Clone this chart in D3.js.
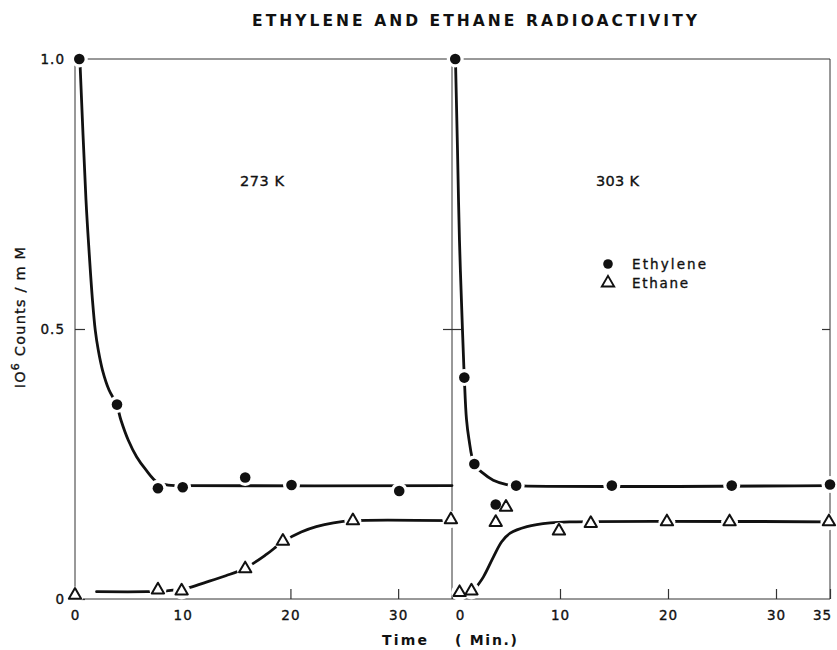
<!DOCTYPE html>
<html><head><meta charset="utf-8">
<script src="https://cdn.jsdelivr.net/npm/d3@7"></script>
<style>
body{margin:0;background:#fff}
svg{display:block}
text{font-family:"DejaVu Sans",sans-serif;fill:#111}
</style></head>
<body><svg id="c" width="837" height="650"></svg>
<script>
// ---------- data ----------
const title = "ETHYLENE AND ETHANE RADIOACTIVITY";
const panelLabels = ["273 K", "303 K"];
const xTicksLeft = [0, 10, 20, 30];
const xTicksRight = [0, 10, 20, 30, 35];
const yTicks = [0, 0.5, 1.0];
const yTickLabels = ["0", "0.5", "1.0"];

// 273 K panel – measured points
const leftEthyleneT = [0.4, 3.9, 7.7, 10.0, 15.8, 20.1, 30.1];
const leftEthyleneV = [1.0, 0.36, 0.205, 0.207, 0.225, 0.211, 0.200];
const leftEthaneT = [0.0, 7.7, 9.9, 15.8, 19.3, 25.8, 34.9];
const leftEthaneV = [0.007, 0.017, 0.015, 0.056, 0.107, 0.145, 0.147];
// 273 K panel – drawn curves
const leftEthyleneCurveT = [0.45, 1.02, 1.30, 1.62, 1.88, 2.16, 2.55, 3.16, 3.85, 4.27, 4.95, 5.73, 6.59, 7.59, 8.64, 9.75, 35];
const leftEthyleneCurveV = [1.0, 0.739, 0.646, 0.554, 0.498, 0.461, 0.424, 0.387, 0.361, 0.331, 0.294, 0.263, 0.239, 0.217, 0.211, 0.210, 0.210];
const leftEthaneCurveT = [2.0, 6.65, 8.5, 10.4, 12.0, 14.0, 15.8, 17.8, 19.3, 21.0, 22.4, 24.0, 25.8, 35];
const leftEthaneCurveV = [0.0135, 0.0135, 0.015, 0.02, 0.03, 0.043, 0.057, 0.083, 0.106, 0.124, 0.134, 0.141, 0.145, 0.145];

// 303 K panel – measured points
const rightEthyleneT = [0.3, 1.14, 2.07, 4.05, 5.94, 14.8, 25.9, 35.0];
const rightEthyleneV = [1.0, 0.41, 0.25, 0.175, 0.21, 0.21, 0.21, 0.212];
const rightEthaneT = [0.7, 1.8, 4.05, 5.0, 9.9, 12.85, 19.9, 25.7, 34.9];
const rightEthaneV = [0.012, 0.015, 0.142, 0.17, 0.126, 0.14, 0.143, 0.143, 0.143];
// 303 K panel – drawn curves
const rightEthyleneCurveT = [0.32, 0.51, 0.69, 0.97, 1.14, 1.34, 1.57, 2.06, 2.87, 3.82, 5.06, 5.93, 35];
const rightEthyleneCurveV = [1.0, 0.831, 0.665, 0.498, 0.41, 0.333, 0.296, 0.25, 0.233, 0.22, 0.212, 0.21, 0.21];
const rightEthaneCurveT = [2.1, 2.91, 3.84, 4.6, 5.39, 6.94, 9.1, 11, 35];
const rightEthaneCurveV = [0.018, 0.041, 0.078, 0.106, 0.122, 0.134, 0.141, 0.143, 0.143];

const legendItems = ["Ethylene", "Ethane"];

// ---------- drawing ----------
const svg = d3.select("#c");
const xL = d3.scaleLinear().domain([0, 35]).range([75, 452]);
const xR = d3.scaleLinear().domain([0, 35]).range([452, 830]);
const y = d3.scaleLinear().domain([0, 1]).range([599, 59]);

const zip = (a, b) => a.map((t, i) => [t, b[i]]);
const ink = "#111";

// frame
const frame = svg.append("g").attr("stroke", "#333").attr("stroke-width", 1).attr("fill", "none");
frame.append("line").attr("x1", xL(0)).attr("x2", xL(0)).attr("y1", y(1)).attr("y2", y(0));
frame.append("line").attr("x1", xL(35)).attr("x2", xL(35)).attr("y1", y(1)).attr("y2", y(0));
frame.append("line").attr("x1", xR(35)).attr("x2", xR(35)).attr("y1", y(1)).attr("y2", y(0));
frame.append("line").attr("x1", xL(0)).attr("x2", xR(35)).attr("y1", y(1)).attr("y2", y(1));
frame.append("line").attr("x1", xL(0)).attr("x2", xR(35)).attr("y1", y(0)).attr("y2", y(0));

function styleAxis(g) {
  g.select(".domain").remove();
  g.selectAll(".tick line").attr("stroke", "#333").attr("stroke-width", 1.2);
  g.selectAll(".tick text").attr("font-family", "DejaVu Sans").attr("font-size", 13.5)
    .attr("letter-spacing", 1).attr("fill", ink).attr("stroke", ink).attr("stroke-width", 0.35);
}

// x axes
svg.append("g").attr("transform", `translate(0,${y(0)})`)
  .call(d3.axisBottom(xL).tickValues(xTicksLeft).tickSize(-10).tickPadding(11).tickFormat(d3.format("d")))
  .call(styleAxis);
const gxR = svg.append("g").attr("transform", `translate(0,${y(0)})`)
  .call(d3.axisBottom(xR).tickValues(xTicksRight).tickSize(-10).tickPadding(11).tickFormat(d3.format("d")))
  .call(styleAxis);
gxR.selectAll(".tick text").attr("dx", d => d === 0 ? 8 : d === 35 ? -8 : 0);

// y axis (left)
svg.append("g").attr("transform", `translate(${xL(0)},0)`)
  .call(d3.axisLeft(y).tickValues(yTicks).tickSize(-10).tickPadding(10).tickFormat((d, i) => yTickLabels[i]))
  .call(styleAxis);
// divider ticks and right edge tick
svg.append("g").attr("transform", `translate(${xL(35)},0)`)
  .call(d3.axisLeft(y).tickValues([0.5]).tickSize(9).tickFormat("")).call(styleAxis);
svg.append("g").attr("transform", `translate(${xL(35)},0)`)
  .call(d3.axisRight(y).tickValues([0.5]).tickSize(9).tickFormat("")).call(styleAxis);
svg.append("g").attr("transform", `translate(${xR(35)},0)`)
  .call(d3.axisLeft(y).tickValues([0.5]).tickSize(8).tickFormat("")).call(styleAxis);

// curves
function curve(xs, T, V) {
  const line = d3.line().x(d => xs(d[0])).y(d => y(d[1])).curve(d3.curveCatmullRom.alpha(0.5));
  svg.append("path").attr("d", line(zip(T, V))).attr("fill", "none")
    .attr("stroke", ink).attr("stroke-width", 2.8).attr("stroke-linecap", "round");
}
curve(xL, leftEthyleneCurveT, leftEthyleneCurveV);
curve(xL, leftEthaneCurveT, leftEthaneCurveV);
curve(xR, rightEthyleneCurveT, rightEthyleneCurveV);
curve(xR, rightEthaneCurveT, rightEthaneCurveV);

// marker halos (the breaks in the drawn lines around each point)
function halos(xs, T, V, r) {
  svg.append("g").selectAll("circle").data(zip(T, V)).join("circle")
    .attr("cx", d => xs(d[0])).attr("cy", d => y(d[1])).attr("r", r).attr("fill", "#fff");
}
halos(xL, leftEthyleneT, leftEthyleneV, 8.5);
halos(xR, rightEthyleneT, rightEthyleneV, 8.5);
halos(xL, leftEthaneT, leftEthaneV, 8.5);
halos(xR, rightEthaneT, rightEthaneV, 8.5);

const tri = d3.symbol().type(d3.symbolTriangle).size(66);
function dots(xs, T, V) {
  svg.append("g").selectAll("circle").data(zip(T, V)).join("circle")
    .attr("cx", d => xs(d[0])).attr("cy", d => y(d[1])).attr("r", 5.3).attr("fill", ink);
}
function tris(xs, T, V) {
  svg.append("g").selectAll("path").data(zip(T, V)).join("path")
    .attr("d", tri).attr("transform", d => `translate(${xs(d[0])},${y(d[1])})`)
    .attr("fill", "#fff").attr("stroke", ink).attr("stroke-width", 2).attr("stroke-linejoin", "round");
}
dots(xL, leftEthyleneT, leftEthyleneV);
dots(xR, rightEthyleneT, rightEthyleneV);
tris(xL, leftEthaneT, leftEthaneV);
tris(xR, rightEthaneT, rightEthaneV);

// texts
svg.append("text").attr("x", 252).attr("y", 26).attr("font-size", 15.5).attr("font-weight", "bold")
  .attr("textLength", 445).attr("lengthAdjust", "spacing").text(title);

function label(x, yy, s, size, opts = {}) {
  const t = svg.append("text").attr("x", x).attr("y", yy).attr("font-size", size)
    .attr("stroke", ink).attr("stroke-width", 0.35).text(s);
  if (opts.anchor) t.attr("text-anchor", opts.anchor);
  if (opts.len) t.attr("textLength", opts.len).attr("lengthAdjust", "spacing");
  if (opts.ls) t.attr("letter-spacing", opts.ls);
  return t;
}
label(240, 186, panelLabels[0], 14.5, {len: 44});
label(596, 186, panelLabels[1], 14.5, {len: 43});

// legend
svg.append("circle").attr("cx", 608).attr("cy", 264).attr("r", 4.8).attr("fill", ink);
svg.append("path").attr("d", tri).attr("transform", "translate(608,283)")
  .attr("fill", "#fff").attr("stroke", ink).attr("stroke-width", 1.9);
label(632, 268.5, legendItems[0], 13.5, {len: 74});
label(632, 287.5, legendItems[1], 13.5, {len: 56});

// axis titles
svg.append("text").attr("x", 382).attr("y", 645).attr("font-size", 14).attr("font-weight", "bold")
  .attr("textLength", 45).attr("lengthAdjust", "spacing").text("Time");
svg.append("text").attr("x", 455).attr("y", 645).attr("font-size", 14).attr("font-weight", "bold")
  .attr("textLength", 62).attr("lengthAdjust", "spacing").text("( Min.)");

const yl = svg.append("text").attr("transform", "translate(25,317) rotate(-90)")
  .attr("text-anchor", "middle").attr("font-size", 14.5).attr("letter-spacing", 1.2)
  .attr("stroke", ink).attr("stroke-width", 0.35);
yl.append("tspan").text("IO");
yl.append("tspan").attr("dy", -6).attr("font-size", 11).text("6");
yl.append("tspan").attr("dy", 6).text(" Counts / m M");
</script></body></html>
